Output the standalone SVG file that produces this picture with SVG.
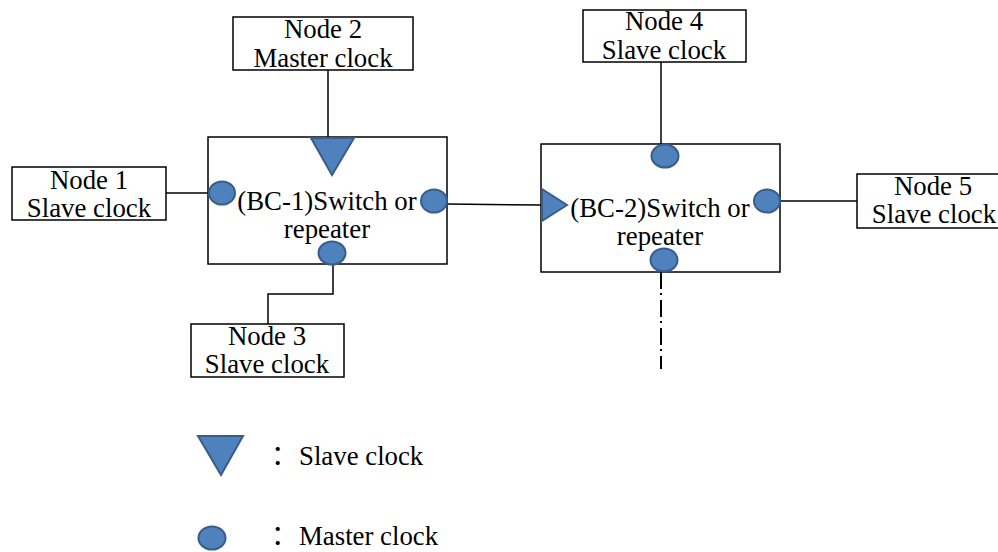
<svg xmlns="http://www.w3.org/2000/svg" width="998" height="552" viewBox="0 0 998 552">
<style>
.box{fill:#fff;stroke:#000;stroke-width:1.5}
.ln{fill:none;stroke:#000;stroke-width:1.5}
.dd{fill:none;stroke:#000;stroke-width:2;stroke-dasharray:17 4 2 5}
.port{fill:#4F81BD;stroke:#385D8A;stroke-width:2}
.t{font-family:'Liberation Serif','Times New Roman','Noto Sans CJK SC',serif;font-size:26.8px;fill:#000}
.c{text-anchor:middle}
</style>
<rect width="998" height="552" fill="#fff"/>
<g id="connectors">
<line class="ln" x1="166" y1="193" x2="209" y2="193"/>
<line class="ln" x1="328" y1="70" x2="328" y2="138"/>
<polyline class="ln" points="333,264 333,294 268,294 268,324"/>
<line class="ln" x1="447" y1="204" x2="542" y2="205"/>
<line class="ln" x1="661" y1="62" x2="661" y2="145"/>
<line class="ln" x1="780" y1="201" x2="857" y2="201"/>
<line class="dd" x1="661" y1="272" x2="661" y2="369"/>
</g>
<g id="node1">
<rect class="box" x="12" y="167" width="154" height="53"/>
<text class="t c" x="89" y="189">Node 1</text>
<text class="t c" x="89" y="217">Slave clock</text>
</g>
<g id="node2">
<rect class="box" x="233" y="17" width="180" height="53"/>
<text class="t c" x="323" y="38">Node 2</text>
<text class="t c" x="323" y="67">Master clock</text>
</g>
<g id="node3">
<rect class="box" x="191" y="324" width="153" height="53"/>
<text class="t c" x="267" y="345">Node 3</text>
<text class="t c" x="267" y="373">Slave clock</text>
</g>
<g id="node4">
<rect class="box" x="583" y="10" width="163" height="52"/>
<text class="t c" x="664" y="30">Node 4</text>
<text class="t c" x="664" y="59">Slave clock</text>
</g>
<g id="node5">
<rect class="box" x="857" y="174" width="160" height="54"/>
<text class="t c" x="933" y="195">Node 5</text>
<text class="t c" x="934" y="223">Slave clock</text>
</g>
<g id="bc1">
<rect class="box" x="208" y="137" width="239" height="127"/>
<text class="t c" x="327" y="210">(BC-1)Switch or</text>
<text class="t c" x="327" y="238">repeater</text>
<polygon class="port" points="311,138 354,138 332,175"/>
<ellipse class="port" cx="222" cy="193" rx="13" ry="11.5"/>
<ellipse class="port" cx="434" cy="201" rx="13" ry="11.5"/>
<ellipse class="port" cx="332" cy="253" rx="13.5" ry="11.5"/>
</g>
<g id="bc2">
<rect class="box" x="541" y="144" width="239" height="128"/>
<text class="t c" x="660" y="217">(BC-2)Switch or</text>
<text class="t c" x="660" y="245">repeater</text>
<polygon class="port" points="542,189 542,221 567,205"/>
<ellipse class="port" cx="665" cy="156" rx="13.5" ry="11.5"/>
<ellipse class="port" cx="767" cy="201" rx="13" ry="11.5"/>
<ellipse class="port" cx="664" cy="260" rx="13.5" ry="11.5"/>
</g>
<g id="legend">
<polygon class="port" points="198,436 243,436 221,475"/>
<text class="t" x="271" y="465">：<tspan x="299">Slave clock</tspan></text>
<ellipse class="port" cx="212" cy="538" rx="13.5" ry="11.5"/>
<text class="t" x="271" y="545">：<tspan x="299">Master clock</tspan></text>
</g>
</svg>
